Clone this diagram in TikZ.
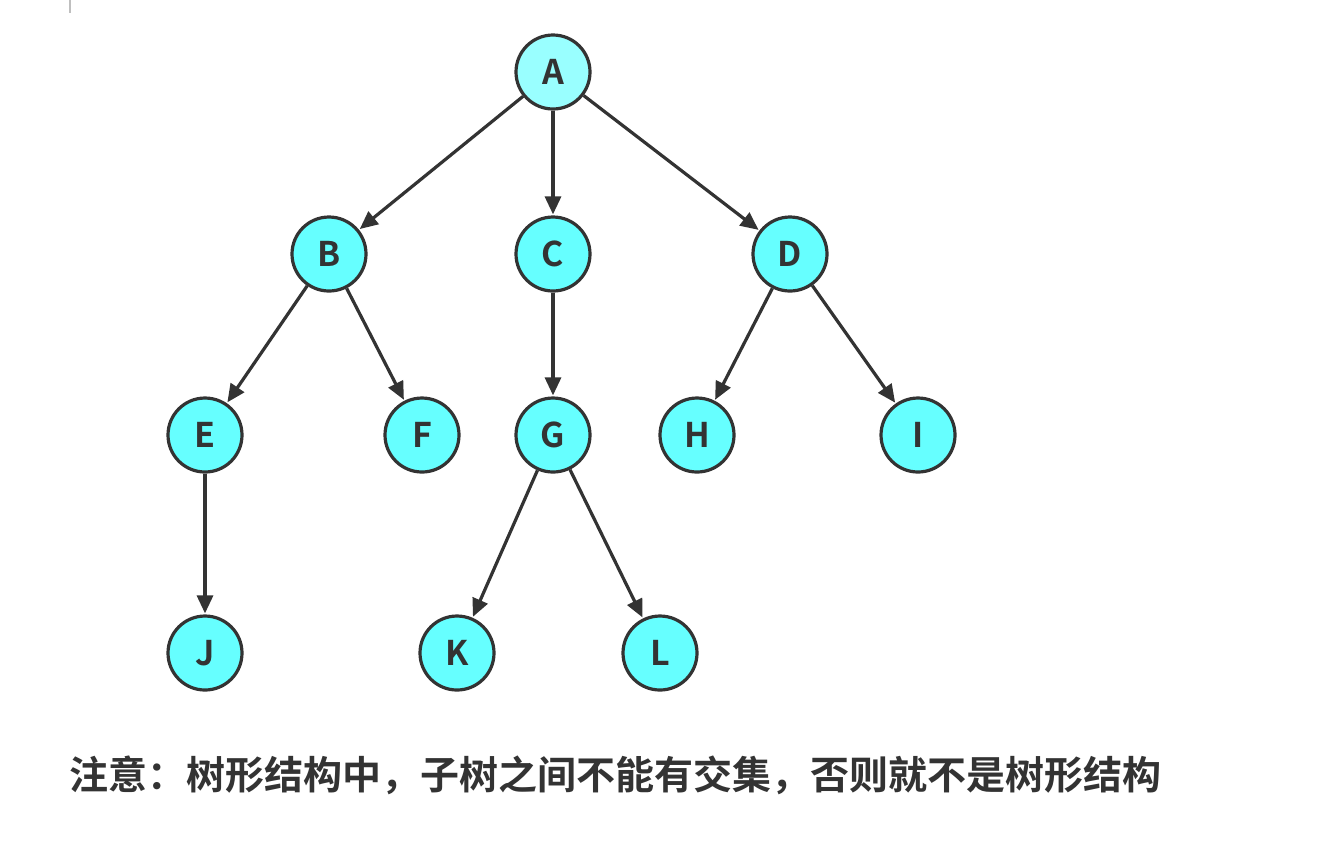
\documentclass[tikz,border=0pt]{standalone}
\usepackage{fontspec}
\setmainfont{Noto Sans CJK SC}[BoldFont={* Bold}]
\newfontfamily\cjk{Noto Sans CJK SC Bold}
\usetikzlibrary{arrows.meta}

\definecolor{treeline}{HTML}{333333}
\definecolor{treefill}{HTML}{66FFFF}
\definecolor{rootfill}{HTML}{99FFFF}

\tikzset{
  treenode/.style={circle, draw=treeline, line width=1.6pt, fill=treefill,
    minimum size=37pt, inner sep=0pt, font=\cjk\fontsize{17}{17}\selectfont, text=treeline},
  treeedge/.style={draw=treeline, line width=1.6pt,
    -{Triangle[length=9pt,width=8pt]}, shorten >=0.5pt},
}

\begin{document}
\begin{tikzpicture}[x=0.5pt,y=-0.5pt]
\useasboundingbox (0,0) rectangle (1337,848);

% small mark at the top left
\draw[gray!50, line width=0.6pt] (70,0) -- (70,13);

\node[treenode, fill=rootfill] (A) at (553,72) {A};
\node[treenode] (B) at (329,254) {B};
\node[treenode] (C) at (553,254) {C};
\node[treenode] (D) at (790,254) {D};
\node[treenode] (E) at (205,435) {E};
\node[treenode] (F) at (422,435) {F};
\node[treenode] (G) at (553,435) {G};
\node[treenode] (H) at (697,435) {H};
\node[treenode] (I) at (918,435) {I};
\node[treenode] (J) at (205,653) {J};
\node[treenode] (K) at (457,653) {K};
\node[treenode] (L) at (660,653) {L};

\foreach \from/\to in {A/B,A/C,A/D,B/E,B/F,C/G,D/H,D/I,E/J,G/K,G/L}
  \draw[treeedge] (\from) -- (\to);

\node[anchor=west, inner sep=0pt, text=treeline, font=\cjk\fontsize{19.5}{20}\selectfont]
  (note) at (69,775) {注意：树形结构中，子树之间不能有交集，否则就不是树形结构};

\end{tikzpicture}
\end{document}
